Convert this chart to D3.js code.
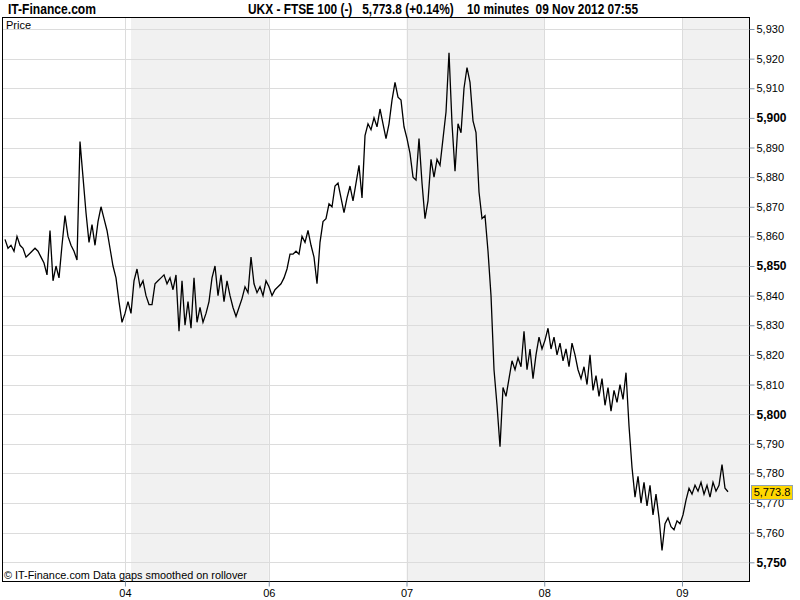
<!DOCTYPE html>
<html><head><meta charset="utf-8">
<script src="https://cdn.jsdelivr.net/npm/d3@7"></script>
<style>
body{margin:0;background:#fff;}
svg{display:block;}
text{font-family:"Liberation Sans","Noto Sans",Arial,sans-serif;}
</style></head>
<body>
<svg id="chart" width="800" height="600"></svg>
<script>
// ---- data ----
const siteName = "IT-Finance.com";
const titleText = "UKX - FTSE 100 (-)   5,773.8 (+0.14%)    10 minutes  09 Nov 2012 07:55";
const footerText = "© IT-Finance.com  Data gaps smoothed on rollover";
const panelLabel = "Price";
const lastPrice = 5773.8;
const lastLabel = "5,773.8";
// x axis: day boundaries (0 = start of first shaded session)
const xTickDays = [-0.044, 1, 2, 3, 4];
const xTickLabels = ["04", "06", "07", "08", "09"];
const shadedSessions = [[0, 1], [2, 3], [4, 4.49]];
const yTicks = [5750,5760,5770,5780,5790,5800,5810,5820,5830,5840,5850,5860,5870,5880,5890,5900,5910,5920,5930];
const yBoldTicks = [5750, 5800, 5850, 5900];
// series: 10-minute closes (approx.), evenly spaced in time
const seriesStartDay = -0.9147;
const seriesStepDays = 0.021779;
const prices = [
5859,5856,5857,5855,5860,5857,5856,5853,5854,5855,5856,5855,5853,5851,
5847,5862,5845,5850,5846,5857,5867,5860,5857,5855,5852,5892,5880,5868,5858,5864,5857,5865,5870,5866,5862,5856,5850,5846,5838,5831,5834,5838,5834,5845,5849,5843,5845,5840,5837,5837,5844,5845,5846,5847,5844,5846,5842,5847,5828,5845,5830,5838,5829,5846,5831,
5836,5831,5834,5838,5846,5850,5840,5847,5838,5845,5840,5836,5833,5836,5839,5843,5841,5853,5844,5841,5843,5840,5845,5843,5840,5842,5843,5844,5846,5849,5854,5854,5855,5854,5860,5858,5862,5857,5853,5844,5858,5865,5866,5871,5870,5877,5878,5873,5868,5873,5877,5872,5878,5884,5873,5894,5898,5896,5900,5897,5903,5898,5893,5898,5906,5912,5907,5906,5897,5893,5888,5880,5879,5893,5878,5866,5872,5886,5880,5886,5884,5893,5902,5922,5898,5882,5898,5895,5910,5917,5912,5899,5895,5875,5866,5867,5855,5840,5815,5803,5789,5809,5806,5812,5818,5815,5819,5816,5828,5815,5822,5812,5820,5826,5822,5825,5829,5822,5826,5820,5824,5818,5822,5816,5824,5820,5815,5812,5816,5810,5820,5808,5813,5806,5812,5803,5809,5801,5808,5804,5810,5805,5814,5796,5782,5772,5779,5770,5777,5769,5776,5766,5773,5765,5754,5763,5765,5762,5761,5764,5763,5766,5771,5775,5773,5776,5774,5777,5773,5776,5772,5777,5774,5776,5783,5775,5773.8
];

// ---- layout ----
const L = 2, R = 749, T = 17, B = 581;
const svg = d3.select("#chart");
const x = d3.scaleLinear().domain([-0.9365, 4.4864]).range([L, R]);
const y = d3.scaleLinear().domain([5750, 5930]).range([562.3, 29]);

const data = prices.map((v, i) => ({d: seriesStartDay + i * seriesStepDays, v}));

// background
svg.append("rect").attr("x", L).attr("y", T).attr("width", R - L).attr("height", B - T).attr("fill", "#fff");
svg.selectAll("rect.band").data(shadedSessions).enter().append("rect")
  .attr("class", "band")
  .attr("x", d => x(d[0])).attr("y", T)
  .attr("width", d => Math.min(x(d[1]), R) - x(d[0])).attr("height", B - T)
  .attr("fill", "#f1f1f1");

// grid
const g = svg.append("g").attr("shape-rendering", "crispEdges");
g.selectAll("line.hg").data(yTicks).enter().append("line")
  .attr("x1", L).attr("x2", R)
  .attr("y1", d => Math.round(y(d)) + 0.5).attr("y2", d => Math.round(y(d)) + 0.5)
  .attr("stroke", "#dcdcdc");
g.selectAll("line.vg").data(xTickDays).enter().append("line")
  .attr("y1", T).attr("y2", B)
  .attr("x1", d => Math.round(x(d)) + 0.5).attr("x2", d => Math.round(x(d)) + 0.5)
  .attr("stroke", "#dcdcdc");

// price line
svg.append("path").datum(data)
  .attr("fill", "none").attr("stroke", "#000").attr("stroke-width", 1.3)
  .attr("stroke-linejoin", "miter")
  .attr("d", d3.line().x(d => x(d.d)).y(d => y(d.v)));

// frame
svg.append("rect").attr("x", L + 0.5).attr("y", T + 0.5).attr("width", R - L).attr("height", B - T)
  .attr("fill", "none").attr("stroke", "#000").attr("shape-rendering", "crispEdges");

// y axis (right)
const yAxis = d3.axisRight(y).tickValues(yTicks).tickSize(5).tickPadding(2)
  .tickFormat(d3.format(",d"));
const ya = svg.append("g").attr("transform", `translate(${R + 0.5},0)`).call(yAxis);
ya.select(".domain").remove();
ya.selectAll(".tick line").attr("stroke", "#7f93a8");
ya.selectAll(".tick text").attr("font-size", 11).attr("fill", "#000")
  .attr("font-weight", d => yBoldTicks.includes(d) ? "bold" : "normal")
  .attr("font-size", d => yBoldTicks.includes(d) ? 12 : 11);

// x axis
const xAxis = d3.axisBottom(x).tickValues(xTickDays).tickSize(5).tickPadding(3)
  .tickFormat((d, i) => xTickLabels[i]);
const xa = svg.append("g").attr("transform", `translate(0,${B + 0.5})`).call(xAxis);
xa.select(".domain").remove();
xa.selectAll(".tick line").attr("stroke", "#7f93a8");
xa.selectAll(".tick text").attr("font-size", 11).attr("fill", "#000");

// last price tag
const ty = y(lastPrice);
svg.append("rect").attr("x", 751.5).attr("y", Math.round(ty - 7) + 0.5).attr("width", 41).attr("height", 14)
  .attr("fill", "#ffd700").attr("stroke", "#8fa3b5");
svg.append("text").attr("x", 772).attr("y", ty + 4).attr("text-anchor", "middle")
  .attr("font-size", 11).attr("fill", "#000").text(lastLabel);

// texts
svg.append("text").attr("x", 6).attr("y", 29).attr("font-size", 11).text(panelLabel);
svg.append("text").attr("x", 4).attr("y", 579).attr("font-size", 11)
  .attr("textLength", 243).attr("lengthAdjust", "spacingAndGlyphs").text(footerText);
svg.append("text").attr("x", 8).attr("y", 14).attr("font-size", 14).attr("font-weight", "bold")
  .attr("font-family", "'Liberation Sans Narrow','Liberation Sans',Arial,sans-serif")
  .attr("textLength", 88).attr("lengthAdjust", "spacingAndGlyphs").text(siteName);
svg.append("text").attr("x", 248).attr("y", 14).attr("font-size", 14).attr("font-weight", "bold")
  .attr("font-family", "'Liberation Sans Narrow','Liberation Sans',Arial,sans-serif")
  .attr("textLength", 390).attr("lengthAdjust", "spacingAndGlyphs")
  .attr("xml:space", "preserve").style("white-space", "pre").text(titleText);
</script>
</body></html>
